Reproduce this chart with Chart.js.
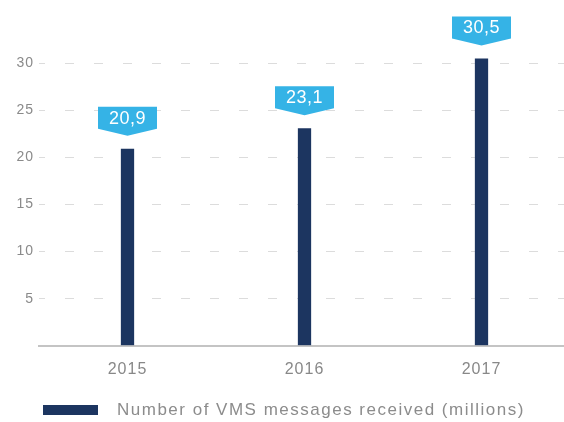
<!DOCTYPE html>
<html><head><meta charset="utf-8">
<script src="https://cdn.jsdelivr.net/npm/chart.js@4.4.1/dist/chart.umd.min.js"></script>
<style>html,body{margin:0;padding:0;background:#fff}#wrap{width:564px;height:422px}</style>
</head><body><div id="wrap"><canvas id="c" width="564" height="422"></canvas></div>
<script>
const years = ['2015', '2016', '2017'];
const messages = [20.9, 23.1, 30.5];
const valueLabels = ['20,9', '23,1', '30,5'];
const seriesName = 'Number of VMS messages received (millions)';
const FONT = '"Liberation Sans", Arial, sans-serif';

const spacing = {
  id: 'spacing',
  beforeLayout(chart) { chart.ctx.letterSpacing = '1px'; },
  afterLayout(chart) {
    const x = chart.scales.x;
    x.right = 570;
    x.width = x.right - x.left;
    x.configure();
  },
  beforeDraw(chart) { chart.ctx.letterSpacing = '1px'; }
};

const callouts = {
  id: 'callouts',
  afterDatasetsDraw(chart) {
    const ctx = chart.ctx;
    const meta = chart.getDatasetMeta(0);
    meta.data.forEach((bar, i) => {
      const x = bar.x, tip = bar.y - 13;
      const w = 59, h = 22, t = 7;
      const top = tip - t - h;
      ctx.save();
      ctx.fillStyle = '#35b3e6';
      ctx.beginPath();
      ctx.moveTo(x - w / 2, top);
      ctx.lineTo(x + w / 2, top);
      ctx.lineTo(x + w / 2, top + h);
      ctx.lineTo(x, tip);
      ctx.lineTo(x - w / 2, top + h);
      ctx.closePath();
      ctx.fill();
      ctx.fillStyle = '#ffffff';
      ctx.letterSpacing = '0.5px';
      ctx.font = '18px ' + FONT;
      ctx.textAlign = 'center';
      ctx.textBaseline = 'middle';
      ctx.fillText(valueLabels[i], x, top + h / 2 + 1);
      ctx.restore();
    });
  }
};

const customLegend = {
  id: 'customLegend',
  afterDraw(chart) {
    const ctx = chart.ctx;
    const ds = chart.data.datasets[0];
    ctx.save();
    ctx.fillStyle = ds.backgroundColor;
    ctx.fillRect(43, 405, 55, 10);
    ctx.fillStyle = '#8c8c8c';
    ctx.letterSpacing = '1.5px';
    ctx.font = '17px ' + FONT;
    ctx.textAlign = 'left';
    ctx.textBaseline = 'middle';
    ctx.fillText(ds.label, 117, 410);
    ctx.restore();
  }
};

new Chart(document.getElementById('c'), {
  type: 'bar',
  data: {
    labels: years,
    datasets: [{
      label: seriesName,
      data: messages,
      backgroundColor: '#1c3560',
      borderColor: '#1c3560',
      barPercentage: 0.075,
      categoryPercentage: 1
    }]
  },
  options: {
    responsive: false,
    animation: false,
    layout: { padding: { top: 16, right: 0, left: 0, bottom: 37 } },
    plugins: {
      tooltip: { enabled: false },
      legend: { display: false }
    },
    scales: {
      x: {
        grid: { display: false },
        border: { display: true, color: '#c4c4c4', width: 2 },
        ticks: { color: '#888', padding: 6, font: { family: FONT, size: 16 } }
      },
      y: {
        min: 0, max: 35,
        afterFit(s) { s.width = 39; },
        border: { display: false, dash: [9, 20], dashOffset: 3 },
        grid: {
          drawTicks: false,
          color: c => (c.tick && (c.tick.value === 0 || c.tick.value === 35)) ? 'rgba(0,0,0,0)' : '#dcdcdc',
          lineWidth: 1
        },
        ticks: {
          stepSize: 5, padding: 5, color: '#8a8a8a',
          font: { family: FONT, size: 14 },
          callback: v => (v === 0 || v === 35) ? '' : String(v)
        }
      }
    }
  },
  plugins: [spacing, callouts, customLegend]
});
</script></body></html>
